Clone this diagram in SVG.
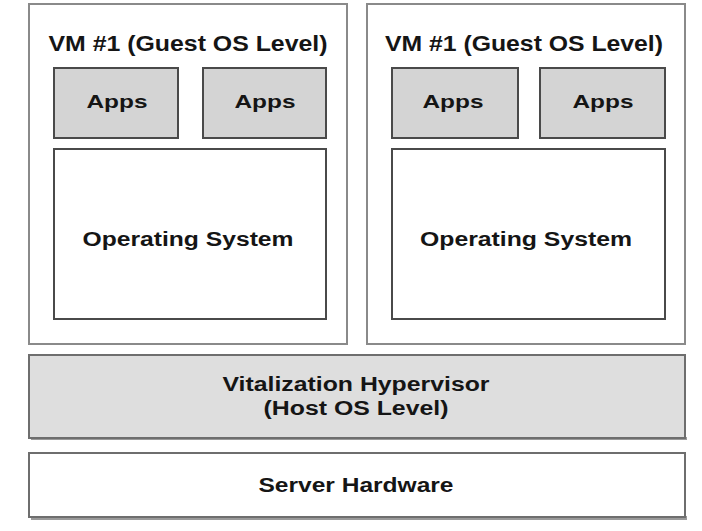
<svg xmlns="http://www.w3.org/2000/svg" width="702" height="531" viewBox="0 0 702 531">
<style>
  .vm { fill: #ffffff; stroke: #8a8a8a; stroke-width: 2; }
  .app { fill: #d4d4d4; stroke: #4a4a4a; stroke-width: 2; }
  .os { fill: #ffffff; stroke: #4a4a4a; stroke-width: 2; }
  .hyp { fill: #dedede; stroke: #6e6e6e; stroke-width: 2; }
  .hw { fill: #ffffff; stroke: #6e6e6e; stroke-width: 2; }
  .shadow { fill: #9a9a9a; }
  text { font-family: "Liberation Sans", Arial, sans-serif; font-weight: bold; fill: #151515; text-anchor: middle; }
  .t22 { font-size: 22px; }
  .t18 { font-size: 18px; }
  .t20 { font-size: 20px; }
</style>
<rect width="702" height="531" fill="#ffffff"/>
<g id="vm1">
  <rect class="vm" x="29" y="4" width="318" height="340"/>
  <text class="t22" x="188" y="51" textLength="279" lengthAdjust="spacingAndGlyphs">VM #1 (Guest OS Level)</text>
</g>
<g id="vm1-app1">
  <rect class="app" x="54" y="68" width="124" height="70"/>
  <text class="t18" x="117" y="108" textLength="61" lengthAdjust="spacingAndGlyphs">Apps</text>
</g>
<g id="vm1-app2">
  <rect class="app" x="203" y="68" width="123" height="70"/>
  <text class="t18" x="265" y="108" textLength="61" lengthAdjust="spacingAndGlyphs">Apps</text>
</g>
<g id="vm1-os">
  <rect class="os" x="54" y="149" width="272" height="170"/>
  <text class="t20" x="188" y="246" textLength="211" lengthAdjust="spacingAndGlyphs">Operating System</text>
</g>
<g id="vm2">
  <rect class="vm" x="367" y="4" width="318" height="340"/>
  <text class="t22" x="524" y="51" textLength="278" lengthAdjust="spacingAndGlyphs">VM #1 (Guest OS Level)</text>
</g>
<g id="vm2-app1">
  <rect class="app" x="392" y="68" width="126" height="70"/>
  <text class="t18" x="453" y="108" textLength="61" lengthAdjust="spacingAndGlyphs">Apps</text>
</g>
<g id="vm2-app2">
  <rect class="app" x="540" y="68" width="125" height="70"/>
  <text class="t18" x="603" y="108" textLength="61" lengthAdjust="spacingAndGlyphs">Apps</text>
</g>
<g id="vm2-os">
  <rect class="os" x="392" y="149" width="273" height="170"/>
  <text class="t20" x="526" y="246" textLength="212" lengthAdjust="spacingAndGlyphs">Operating System</text>
</g>
<g id="hypervisor">
  <rect class="shadow" x="31" y="437" width="656" height="3"/>
  <rect class="hyp" x="29" y="355" width="656" height="83"/>
  <text class="t20" x="356" y="391" textLength="267" lengthAdjust="spacingAndGlyphs">Vitalization Hypervisor</text>
  <text class="t20" x="356" y="415" textLength="185" lengthAdjust="spacingAndGlyphs">(Host OS Level)</text>
</g>
<g id="server-hardware">
  <rect class="shadow" x="31" y="516" width="656" height="4"/>
  <rect class="hw" x="29" y="453" width="656" height="64"/>
  <text class="t20" x="356" y="492" textLength="195" lengthAdjust="spacingAndGlyphs">Server Hardware</text>
</g>
<g id="connectors"></g>
</svg>
